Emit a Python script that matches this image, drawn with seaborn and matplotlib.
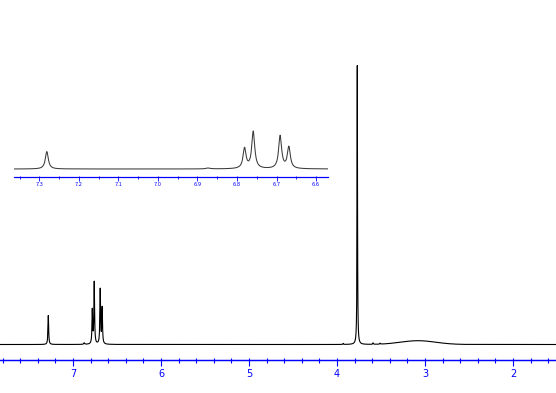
import numpy as np
import pandas as pd
import matplotlib
matplotlib.use("Agg")
import matplotlib.pyplot as plt
import seaborn as sns
from matplotlib.ticker import MultipleLocator, FormatStrFormatter

# ---- peak table (chemical shift ppm, height, half-width ppm)
peak_ppm = [7.281, 6.873, 6.781, 6.759, 6.691, 6.669, 3.930, 3.770, 3.590, 3.510]
peak_height = [29.0, 1.5, 33.6, 61.7, 54.6, 35.8, 1.0, 279.0, 1.5, 1.0]
peak_halfwidth = [0.0045, 0.006, 0.0045, 0.0045, 0.0045, 0.0045, 0.004, 0.003, 0.004, 0.004]
# broad exchangeable hump
hump_ppm = [3.08]
hump_height = [3.8]
hump_sigma = [0.2]

main_ticks_major = [2, 3, 4, 5, 6, 7]
inset_ticks_major = [6.6, 6.7, 6.8, 6.9, 7.0, 7.1, 7.2, 7.3]

BLUE = "#0000FF"

shift = np.arange(1.50, 7.85, 0.0005)
intensity = np.zeros_like(shift)
for c, h, w in zip(peak_ppm, peak_height, peak_halfwidth):
    intensity += h / (1.0 + ((shift - c) / w) ** 2)
for c, h, s in zip(hump_ppm, hump_height, hump_sigma):
    intensity += h * np.exp(-0.5 * ((shift - c) / s) ** 2)
df = pd.DataFrame({"ppm": shift, "I": intensity})

sns.set_theme(style="white")
plt.rcParams["font.family"] = ["DejaVu Sans"]

W, H = 556, 393
fig = plt.figure(figsize=(W / 100, H / 100), dpi=100)
fig.patch.set_facecolor("white")

# ---- main spectrum
ax_bottom = 360.0
ax = fig.add_axes([0, (H - ax_bottom) / H, 1, ax_bottom / H])
ax.set_facecolor("none")
sns.lineplot(data=df, x="ppm", y="I", ax=ax, color="black", lw=0.8,
             sort=False, estimator=None)
ax.set_xlim(7.83, 1.512)
ax.set_ylim(-15.5, 344.5)
for s in ["top", "left", "right"]:
    ax.spines[s].set_visible(False)
ax.spines["bottom"].set_color(BLUE)
ax.spines["bottom"].set_linewidth(0.9)
ax.set_yticks([])
ax.set_xlabel("")
ax.set_ylabel("")
ax.set_xticks(main_ticks_major)
ax.xaxis.set_major_formatter(FormatStrFormatter("%d"))
ax.xaxis.set_minor_locator(MultipleLocator(0.2))
ax.tick_params(axis="x", which="major", direction="out", length=4.6, width=0.8,
               color=BLUE, labelcolor=BLUE, labelsize=7, pad=2.0, bottom=True)
ax.tick_params(axis="x", which="minor", direction="out", length=1.8, width=0.8,
               color=BLUE, bottom=True)
sec = ax.secondary_xaxis("bottom")
sec.set_xticks(main_ticks_major)
sec.xaxis.set_minor_locator(MultipleLocator(0.2))
sec.tick_params(axis="x", which="both", direction="in", length=1.8, width=0.8,
                color=BLUE, labelbottom=False)
sec.spines["bottom"].set_color(BLUE)
sec.spines["bottom"].set_linewidth(0.9)

# ---- inset expansion of the aromatic region
in_left, in_right, in_bottom, in_top = 14.0, 328.0, 177.3, 100.0
axi = fig.add_axes([in_left / W, (H - in_bottom) / H,
                    (in_right - in_left) / W, (in_bottom - in_top) / H])
axi.set_facecolor("none")
dfi = df[(df.ppm > 6.56) & (df.ppm < 7.37)]
sns.lineplot(data=dfi, x="ppm", y="I", ax=axi, color="#3a3a3a", lw=0.75,
             sort=False, estimator=None)
axi.set_xlim(7.364, 6.570)
scale = 0.6
axi.set_ylim(-8.3 / scale, (in_bottom - in_top - 8.3) / scale)
for s in ["top", "left", "right"]:
    axi.spines[s].set_visible(False)
axi.spines["bottom"].set_color(BLUE)
axi.spines["bottom"].set_linewidth(0.8)
axi.set_yticks([])
axi.set_xlabel("")
axi.set_ylabel("")
axi.set_xticks(inset_ticks_major)
axi.xaxis.set_major_formatter(FormatStrFormatter("%.1f"))
axi.xaxis.set_minor_locator(MultipleLocator(0.05))
axi.tick_params(axis="x", which="major", direction="out", length=3.2, width=0.6,
                color=BLUE, labelcolor=BLUE, labelsize=3.6, pad=0.5, bottom=True)
axi.tick_params(axis="x", which="minor", direction="out", length=1.7, width=0.6,
                color=BLUE, bottom=True)
seci = axi.secondary_xaxis("bottom")
seci.set_xticks(inset_ticks_major)
seci.xaxis.set_minor_locator(MultipleLocator(0.05))
seci.tick_params(axis="x", which="both", direction="in", length=0.8, width=0.6,
                 color=BLUE, labelbottom=False)
seci.spines["bottom"].set_color(BLUE)
seci.spines["bottom"].set_linewidth(0.8)

fig.savefig("out.png", dpi=100)
